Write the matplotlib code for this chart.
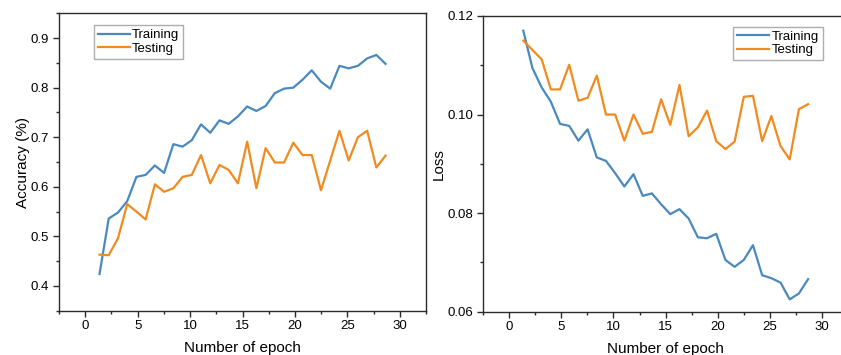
import numpy as np
import matplotlib
matplotlib.use("Agg")
import matplotlib.pyplot as plt
from matplotlib.ticker import MultipleLocator, FormatStrFormatter

plt.rcParams["font.family"] = ["Liberation Sans", "DejaVu Sans"]

# epoch positions as drawn on the x axis
epoch = [1.36, 2.24, 3.12, 4.00, 4.88, 5.76, 6.64, 7.52, 8.40, 9.28, 10.16,
         11.04, 11.92, 12.80, 13.68, 14.56, 15.44, 16.32, 17.20, 18.08, 18.96,
         19.84, 20.72, 21.60, 22.48, 23.36, 24.24, 25.12, 26.00, 26.88, 27.76, 28.64]

acc_train = [0.424, 0.536, 0.548, 0.571, 0.620, 0.624, 0.643, 0.628, 0.686, 0.681,
             0.694, 0.726, 0.709, 0.734, 0.727, 0.742, 0.762, 0.753, 0.763, 0.789,
             0.798, 0.800, 0.816, 0.835, 0.812, 0.798, 0.844, 0.839, 0.844, 0.859,
             0.866, 0.848]
acc_test = [0.463, 0.462, 0.496, 0.565, 0.550, 0.534, 0.605, 0.590, 0.597, 0.620,
            0.624, 0.664, 0.607, 0.644, 0.634, 0.607, 0.691, 0.597, 0.678, 0.649,
            0.649, 0.689, 0.664, 0.664, 0.593, 0.653, 0.713, 0.653, 0.700, 0.713,
            0.639, 0.663]

loss_train = [0.1170, 0.1094, 0.1055, 0.1026, 0.0981, 0.0977, 0.0947, 0.0970, 0.0913,
              0.0906, 0.0881, 0.0854, 0.0879, 0.0835, 0.0840, 0.0818, 0.0798, 0.0808,
              0.0789, 0.0751, 0.0749, 0.0758, 0.0705, 0.0691, 0.0705, 0.0735, 0.0674,
              0.0668, 0.0659, 0.0625, 0.0637, 0.0666]
loss_test = [0.1150, 0.1131, 0.1112, 0.1051, 0.1051, 0.1101, 0.1028, 0.1034, 0.1079,
             0.1000, 0.1000, 0.0947, 0.1000, 0.0961, 0.0965, 0.1031, 0.0979, 0.1060,
             0.0956, 0.0974, 0.1008, 0.0946, 0.0930, 0.0945, 0.1036, 0.1038, 0.0946,
             0.0997, 0.0936, 0.0909, 0.1011, 0.1021]

blue = "#4a89bf"
orange = "#f28b1e"

fig = plt.figure(figsize=(8.41, 3.55), dpi=100)
ax1 = fig.add_axes([0.0702, 0.1248, 0.4364, 0.8377])
ax2 = fig.add_axes([0.5743, 0.1220, 0.4345, 0.8330])

def style(ax):
    for s in ax.spines.values():
        s.set_linewidth(1.0)
        s.set_color("#2b2b2b")
    ax.tick_params(which="both", direction="out", top=False, right=False,
                   labelsize=9.5, color="#2b2b2b", width=1.0)
    ax.tick_params(which="major", length=4, pad=3)
    ax.tick_params(which="minor", length=2.5)
    ax.set_xlim(-2.5, 32.5)
    ax.xaxis.set_major_locator(MultipleLocator(5))
    ax.xaxis.set_minor_locator(MultipleLocator(2.5))
    ax.set_xlabel("Number of epoch", fontsize=11, labelpad=6)

# 左: accuracy
ax1.plot(epoch, acc_train, color=blue, lw=1.6, label="Training")
ax1.plot(epoch, acc_test, color=orange, lw=1.6, label="Testing")
style(ax1)
ax1.set_ylim(0.35, 0.95)
ax1.yaxis.set_major_locator(MultipleLocator(0.1))
ax1.yaxis.set_minor_locator(MultipleLocator(0.05))
ax1.yaxis.set_major_formatter(FormatStrFormatter("%.1f"))
ax1.set_ylabel("Accuracy (%)", fontsize=11, labelpad=1)
ax1.legend(loc="upper left", bbox_to_anchor=(0.095, 0.96), borderaxespad=0,
           fontsize=9.5, frameon=True, fancybox=False, edgecolor="#999999",
           handlelength=2.4, handletextpad=0.2, borderpad=0.3, labelspacing=0.1)

# 右: loss
ax2.plot(epoch, loss_train, color=blue, lw=1.6, label="Training")
ax2.plot(epoch, loss_test, color=orange, lw=1.6, label="Testing")
style(ax2)
ax2.set_ylim(0.06, 0.12)
ax2.yaxis.set_major_locator(MultipleLocator(0.02))
ax2.yaxis.set_minor_locator(MultipleLocator(0.01))
ax2.yaxis.set_major_formatter(FormatStrFormatter("%.2f"))
ax2.set_ylabel("Loss", fontsize=11, labelpad=1)
ax2.legend(loc="upper right", bbox_to_anchor=(0.93, 0.964), borderaxespad=0,
           fontsize=9.5, frameon=True, fancybox=False, edgecolor="#999999",
           handlelength=2.4, handletextpad=0.2, borderpad=0.3, labelspacing=0.1)

fig.savefig("out.png", dpi=100)
